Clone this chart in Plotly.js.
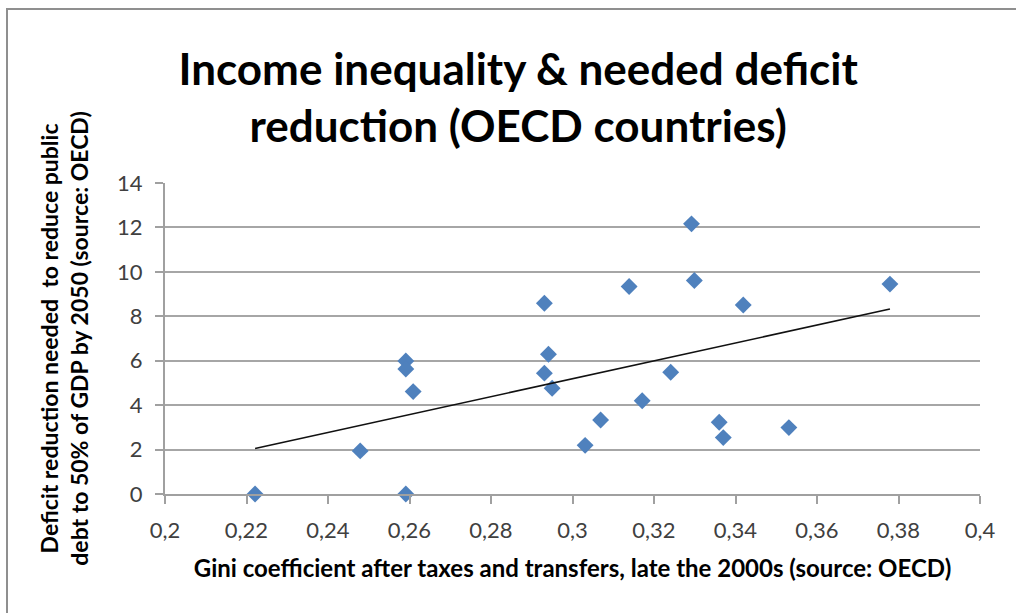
<!DOCTYPE html>
<html>
<head>
<meta charset="utf-8">
<script src="https://cdn.plot.ly/plotly-3.0.1.min.js"></script>
<style>
  html, body { margin: 0; padding: 0; background: #ffffff; }
  #wrap { position: relative; width: 1016px; height: 613px; }
  #chart { width: 1016px; height: 613px; }
  #frame { position: absolute; left: 6px; top: 8px; right: 0; bottom: 0;
           border-left: 2px solid #8f8f8f; border-top: 2px solid #8f8f8f;
           pointer-events: none; }
</style>
</head>
<body>
<div id="wrap">
  <div id="chart"></div>
  <div id="frame"></div>
</div>
<script>
// Gini coefficient after taxes and transfers (late 2000s)
const gini = [0.2221, 0.2479, 0.2591, 0.2591, 0.2609, 0.2591, 0.2931, 0.2941, 0.2931, 0.2950, 0.3031,
              0.3069, 0.3139, 0.3171, 0.3241, 0.3292, 0.3299, 0.3360, 0.3370, 0.3419, 0.3531, 0.3779];
// Deficit reduction needed to reduce public debt to 50% of GDP by 2050
const deficit = [0.0, 1.94, 5.99, 5.63, 4.61, 0.0, 8.59, 6.29, 5.44, 4.76, 2.19,
                 3.33, 9.34, 4.20, 5.48, 12.16, 9.61, 3.23, 2.54, 8.51, 2.99, 9.45];

const xTickVals = [0.2, 0.22, 0.24, 0.26, 0.28, 0.3, 0.32, 0.34, 0.36, 0.38, 0.4];
const xTickText = ['0,2', '0,22', '0,24', '0,26', '0,28', '0,3', '0,32', '0,34', '0,36', '0,38', '0,4'];
const yTickVals = [0, 2, 4, 6, 8, 10, 12, 14];

// linear trendline (least squares) over the data
const n = gini.length;
const mx = gini.reduce((a, b) => a + b, 0) / n;
const my = deficit.reduce((a, b) => a + b, 0) / n;
let sxy = 0, sxx = 0;
for (let i = 0; i < n; i++) { sxy += (gini[i] - mx) * (deficit[i] - my); sxx += (gini[i] - mx) ** 2; }
const slope = sxy / sxx, intercept = my - slope * mx;
const xMin = Math.min(...gini), xMax = Math.max(...gini);
const trendX = [xMin, xMax];
const trendY = trendX.map(v => intercept + slope * v);

const font = "Lato, 'Open Sans', sans-serif";

const data = [
  { x: gini, y: deficit, type: 'scatter', mode: 'markers',
    marker: { symbol: 'diamond', size: 13, color: '#4f81bd' }, cliponaxis: false, hoverinfo: 'x+y' },
  { x: trendX, y: trendY, type: 'scatter', mode: 'lines',
    line: { color: '#111111', width: 1.6 }, hoverinfo: 'skip' }
];

const layout = {
  width: 1016, height: 613,
  margin: { l: 165, r: 36, t: 183, b: 119 },
  paper_bgcolor: '#ffffff', plot_bgcolor: '#ffffff',
  showlegend: false,
  font: { family: font, color: '#404040' },
  title: {
    text: 'Income inequality & needed deficit<br>reduction (OECD countries)',
    font: { family: font, size: 44, color: '#000000', weight: 'bold' },
    xref: 'container', x: 0.51, xanchor: 'center',
    yref: 'container', y: 0.862, yanchor: 'top'
  },
  xaxis: {
    range: [0.2, 0.4], tickvals: xTickVals, ticktext: xTickText,
    showgrid: false, zeroline: false,
    showline: true, linecolor: '#a0a0a0', linewidth: 2,
    ticks: 'outside', ticklen: 8, tickwidth: 2, tickcolor: '#a0a0a0',
    ticklabelstandoff: 8,
    tickfont: { size: 22, color: '#404040', family: font },
    title: { text: 'Gini coefficient after taxes and transfers, late the 2000s (source: OECD)',
             font: { size: 24, color: '#000000', family: font, weight: 'bold' }, standoff: 18 },
    fixedrange: true
  },
  yaxis: {
    range: [0, 14], tickvals: yTickVals,
    showgrid: true, gridcolor: '#a6a6a6', gridwidth: 2, zeroline: false,
    showline: true, linecolor: '#a0a0a0', linewidth: 2,
    ticks: 'outside', ticklen: 8, tickwidth: 2, tickcolor: '#a0a0a0',
    ticklabelstandoff: 8,
    tickfont: { size: 22, color: '#404040', family: font },
    title: { text: 'Deficit reduction needed  to reduce public<br>debt to 50% of GDP by 2050 (source: OECD)',
             font: { size: 23, color: '#000000', family: font, weight: 'bold' }, standoff: 22 },
    fixedrange: true
  }
};

Plotly.newPlot('chart', data, layout, { displayModeBar: false });
</script>
</body>
</html>
